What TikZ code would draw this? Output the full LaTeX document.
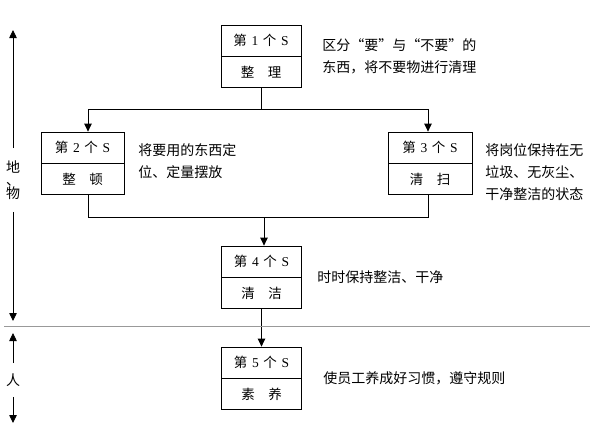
\documentclass[tikz,border=0pt]{standalone}
\usepackage{fontspec}
\setmainfont{Noto Sans CJK SC}
\newfontfamily\lat{Liberation Serif}
\usetikzlibrary{positioning,arrows.meta}
\newcommand\sno[1]{第\hspace{0.35em}{\lat #1}\hspace{0.35em}个\hspace{0.35em}{\lat S}}
\begin{document}
\begin{tikzpicture}[x=1bp,y=-1bp,line width=0.8bp,
  cell/.style={draw,minimum width=80bp,minimum height=31bp,inner sep=0pt,font=\fontsize{13.5bp}{13.5bp}\selectfont},
  note/.style={anchor=west,align=left,inner sep=0pt,font=\fontsize{14bp}{22bp}\selectfont},
  tip/.style={-{Triangle[width=7.5bp,length=8bp]}}]
\useasboundingbox (0,0) rectangle (595,427);
% the five S boxes
\node[cell] (s1) at (261,40.5) {\sno{1}};\node[cell,below=0pt of s1] (s1n) {整\hspace{1em}理};
\node[cell,minimum width=83bp] (s2) at (82.5,147.5) {\sno{2}};\node[cell,minimum width=83bp,below=0pt of s2] (s2n) {整\hspace{1em}顿};
\node[cell,minimum width=84bp] (s3) at (430,147.5) {\sno{3}};\node[cell,minimum width=84bp,below=0pt of s3] (s3n) {清\hspace{1em}扫};
\node[cell] (s4) at (261.5,261.5) {\sno{4}};\node[cell,below=0pt of s4] (s4n) {清\hspace{1em}洁};
\node[cell] (s5) at (261.5,362.5) {\sno{5}};\node[cell,below=0pt of s5] (s5n) {素\hspace{1em}养};
% notes beside the boxes
\node[note] (t1) at (322,56.5) {区分“要”与“不要”的\\东西，将不要物进行清理};
\node[note] (t2) at (138,161) {将要用的东西定\\位、定量摆放};
\node[note] (t3) at (485,172) {将岗位保持在无\\垃圾、无灰尘、\\干净整洁的状态};
\node[note] (t4) at (317,277) {时时保持整洁、干净};
\node[note] (t5) at (323,378) {使员工养成好习惯，遵守规则};
% connectors
\coordinate (j1) at (261,109);\coordinate (j2) at (264,217);
\draw (s1n.south)--(j1);
\draw[tip] (j1) -| ([xshift=5.5bp]s2.north);\draw[tip] (j1) -| ([xshift=-2bp]s3.north);
\draw ([xshift=5.5bp]s2n.south) |- (j2);\draw ([xshift=-2bp]s3n.south) |- (j2);
\draw[tip] (j2)--(j2 |- s4.north);\draw[tip] (s4n.south)--(s5.north);
% left side
\draw[gray!80,line width=1bp] (4,326)--(590,326);
\node[font=\fontsize{14bp}{13bp}\selectfont,align=center,inner xsep=0pt,inner ysep=12bp] (dw) at (13,180) {地\\、\\物};
\coordinate (dwt) at (13,30);\coordinate (dwb) at (13,321);
\draw[tip] (dw.north)--(dwt);\draw[tip] (dw.south)--(dwb);
\node[font=\fontsize{14bp}{14bp}\selectfont,inner xsep=0pt,inner ysep=10bp] (ren) at (13,380) {人};
\coordinate (rent) at (13,333);\coordinate (renb) at (13,423);
\draw[tip] (ren.north)--(rent);\draw[tip] (ren.south)--(renb);
\end{tikzpicture}
\end{document}
